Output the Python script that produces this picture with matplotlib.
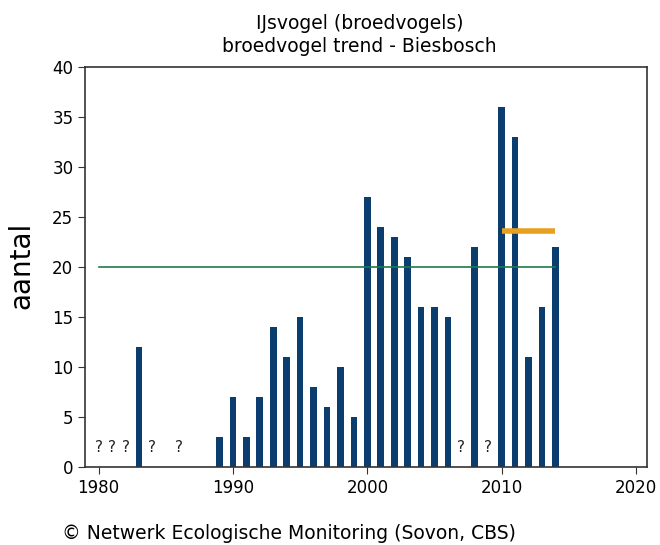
import matplotlib
matplotlib.use("Agg")
import matplotlib.pyplot as plt

years = [1983, 1989, 1990, 1991, 1992, 1993, 1994, 1995, 1996, 1997, 1998, 1999,
         2000, 2001, 2002, 2003, 2004, 2005, 2006, 2008, 2010, 2011, 2012, 2013, 2014]
counts = [12, 3, 7, 3, 7, 14, 11, 15, 8, 6, 10, 5,
          27, 24, 23, 21, 16, 16, 15, 22, 36, 33, 11, 16, 22]
unknown_years = [1980, 1981, 1982, 1984, 1986, 2007, 2009]
mean_all = 20
mean_all_span = [1980, 2014]
mean_recent = 23.6
mean_recent_span = [2010, 2014]
xticks = [1980, 1990, 2000, 2010, 2020]
yticks = [0, 5, 10, 15, 20, 25, 30, 35, 40]

fig = plt.figure(figsize=(6.6, 5.45), dpi=100)
ax = fig.add_axes([0.129, 0.143, 0.851, 0.734])

ax.bar(years, counts, width=0.5, color='#0b3e6f', zorder=2)
ax.plot(mean_all_span, [mean_all, mean_all], color='#1e7a4a', lw=1.2, zorder=3)
ax.plot(mean_recent_span, [mean_recent, mean_recent], color='#e8a020', lw=4, zorder=4,
        solid_capstyle='butt')
for y in unknown_years:
    ax.text(y, 2, '?', ha='center', va='center', fontsize=11, color='#222222')

ax.set_xlim(1979, 2020.8)
ax.set_ylim(0, 40)
ax.set_xticks(xticks)
ax.set_yticks(yticks)
ax.tick_params(labelsize=12, direction='out', length=5, color='#333333')
for s in ax.spines.values():
    s.set_color('#333333')
    s.set_linewidth(1.2)
ax.set_ylabel('aantal', fontsize=20)
ax.yaxis.set_label_coords(-0.088, 0.505)

fig.text(0.545, 0.957, 'IJsvogel (broedvogels)', ha='center', va='center', fontsize=13.5)
fig.text(0.545, 0.914, 'broedvogel trend - Biesbosch', ha='center', va='center', fontsize=13.5)
fig.text(0.094, 0.022, '© Netwerk Ecologische Monitoring (Sovon, CBS)', ha='left',
         va='center', fontsize=13.5)

fig.savefig('out.png', dpi=100)
